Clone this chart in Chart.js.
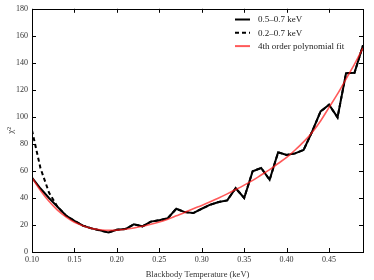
<!DOCTYPE html>
<html>
<head>
<meta charset="utf-8">
<script src="https://cdn.jsdelivr.net/npm/chart.js@4.4.1/dist/chart.umd.min.js"></script>
<style>
  html, body { margin: 0; padding: 0; background: #fff; }
  #wrap { width: 374px; height: 280px; }
</style>
</head>
<body>
<div id="wrap"><canvas id="myChart" width="374" height="280"></canvas></div>
<script>
// temperatures (keV), one sample every 0.01
const temps = [0.10, 0.11, 0.12, 0.13, 0.14, 0.15, 0.16, 0.17, 0.18, 0.19,
  0.20, 0.21, 0.22, 0.23, 0.24, 0.25, 0.26, 0.27, 0.28, 0.29,
  0.30, 0.31, 0.32, 0.33, 0.34, 0.35, 0.36, 0.37, 0.38, 0.39,
  0.40, 0.41, 0.42, 0.43, 0.44, 0.45, 0.46, 0.47, 0.48, 0.49];

// chi^2, 0.5-0.7 keV band
const chiHard = [55, 47, 40, 33.5, 27, 23, 19.5, 17.5, 16, 14.5,
  16.5, 17, 20.5, 19, 22.5, 23.5, 25, 32, 29.5, 28.8,
  32, 35, 37, 38.2, 47.2, 40, 59.8, 62.2, 53.4, 73.8,
  71.8, 73, 75.5, 89, 104, 109, 99.6, 132.3, 132.6, 153];

// chi^2, 0.2-0.7 keV band (drawn under the solid line)
const chiWide = [90, 62, 44, 33.5, 27, 23, 19.5, 17.5, 16, 14.5,
  16.5, 17, 20.5, 19, 22.5, 23.5, 25, 32, 29.5, 28.8,
  32, 35, 37, 38.2, 47.2, 40, 59.8, 62.2, 53.4, 73.8,
  71.8, 73, 75.5, 89, 104, 109, 99.6, 132.3, 132.6, 153];

// 4th order polynomial fit
const chiFit = [55, 45.5, 37.5, 31, 26, 22, 19.5, 17.5, 16.5, 16,
  16.2, 16.8, 17.8, 19, 20.5, 22.2, 24.3, 26.8, 29.3, 32,
  34.5, 37.2, 40, 43, 46.2, 49.5, 53, 57, 61, 65.5,
  70, 75.5, 81.5, 88.5, 97, 107, 117, 128, 139, 151];

const xTicks = [0.10, 0.15, 0.20, 0.25, 0.30, 0.35, 0.40, 0.45];
const yTicks = [0, 20, 40, 60, 80, 100, 120, 140, 160, 180];

const seriesLabels = ['0.5\u20130.7 keV', '0.2\u20130.7 keV', '4th order polynomial fit'];

const serif = "'Liberation Serif', 'DejaVu Serif', serif";
const fitRed = 'rgba(255,20,20,0.7)';

const toPoints = (ys) => temps.map((t, i) => ({ x: t, y: ys[i] }));

/* inward ticks on all four sides plus the frame, like matplotlib classic */
const frameTicks = {
  id: 'frameTicks',
  afterDraw(chart) {
    const { ctx, chartArea: a, scales } = chart;
    const len = 4;
    ctx.save();
    ctx.strokeStyle = '#000';
    ctx.lineWidth = 1;
    ctx.beginPath();
    xTicks.forEach((v) => {
      const px = Math.round(scales.x.getPixelForValue(v)) + 0.5;
      ctx.moveTo(px, a.bottom); ctx.lineTo(px, a.bottom - len);
      ctx.moveTo(px, a.top); ctx.lineTo(px, a.top + len);
    });
    yTicks.forEach((v) => {
      const py = Math.round(scales.y.getPixelForValue(v)) + 0.5;
      ctx.moveTo(a.left, py); ctx.lineTo(a.left + len, py);
      ctx.moveTo(a.right, py); ctx.lineTo(a.right - len, py);
    });
    ctx.stroke();
    ctx.strokeRect(Math.round(a.left) + 0.5, Math.round(a.top) + 0.5,
      Math.round(a.right - a.left), Math.round(a.bottom - a.top));
    ctx.restore();
  },
};

/* legend without frame, top right inside the axes */
const innerLegend = {
  id: 'innerLegend',
  afterDraw(chart) {
    const { ctx } = chart;
    const styles = [
      { color: '#000', dash: [], width: 2 },
      { color: '#000', dash: [4, 3], width: 2 },
      { color: fitRed, dash: [], width: 2 },
    ];
    ctx.save();
    ctx.font = '9px ' + serif;
    ctx.textBaseline = 'middle';
    seriesLabels.forEach((label, i) => {
      const y = 19.5 + i * 13.3;
      ctx.beginPath();
      ctx.setLineDash(styles[i].dash);
      ctx.strokeStyle = styles[i].color;
      ctx.lineWidth = styles[i].width;
      ctx.moveTo(235, y); ctx.lineTo(250, y);
      ctx.stroke();
      ctx.setLineDash([]);
      ctx.fillStyle = '#222';
      ctx.fillText(label, 258, y + 0.5);
    });
    ctx.restore();
  },
};

const data = {
  datasets: [
    {
      label: seriesLabels[1],
      data: toPoints(chiWide),
      borderColor: '#000',
      borderWidth: 2,
      borderDash: [4, 3],
      pointRadius: 0,
      order: 3,
    },
    {
      label: seriesLabels[0],
      data: toPoints(chiHard),
      borderColor: '#000',
      borderWidth: 2,
      pointRadius: 0,
      order: 2,
    },
    {
      label: seriesLabels[2],
      data: toPoints(chiFit),
      borderColor: fitRed,
      borderWidth: 1.6,
      pointRadius: 0,
      cubicInterpolationMode: 'monotone',
      order: 1,
    },
  ],
};

const config = {
  type: 'line',
  data: data,
  options: {
    responsive: false,
    animation: false,
    layout: { padding: { top: 8, right: 11, left: 0, bottom: 0 } },
    plugins: {
      legend: { display: false },
      tooltip: { enabled: false },
    },
    scales: {
      x: {
        type: 'linear',
        min: 0.10,
        max: 0.49,
        afterBuildTicks: (scale) => { scale.ticks = xTicks.map((v) => ({ value: v })); },
        afterFit: (scale) => { scale.height = 28; },
        grid: { display: false, drawTicks: false },
        border: { display: false },
        ticks: {
          color: '#333',
          padding: 3,
          maxRotation: 0,
          font: { size: 8, family: serif },
          callback: (v) => Number(v).toFixed(2),
        },
        title: {
          display: true,
          text: 'Blackbody Temperature (keV)',
          color: '#333',
          padding: { top: 0, bottom: 0 },
          font: { size: 8.5, family: serif },
        },
      },
      y: {
        min: 0,
        max: 180,
        afterBuildTicks: (scale) => { scale.ticks = yTicks.map((v) => ({ value: v })); },
        afterFit: (scale) => { scale.width = 32; },
        grid: { display: false, drawTicks: false },
        border: { display: false },
        ticks: {
          color: '#333',
          padding: 4,
          font: { size: 8, family: serif },
        },
        title: {
          display: true,
          text: '\u03c7\u00b2',
          color: '#333',
          padding: { top: 5, bottom: 0 },
          font: { size: 9, family: serif },
        },
      },
    },
  },
  plugins: [frameTicks, innerLegend],
};

new Chart(document.querySelector('#myChart'), config);
</script>
</body>
</html>
